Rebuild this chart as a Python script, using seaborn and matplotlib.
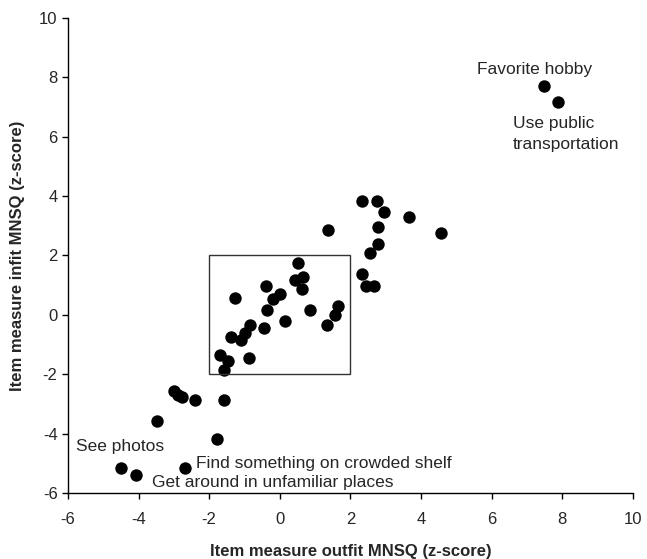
import seaborn as sns
import matplotlib.pyplot as plt
import matplotlib.patches as patches
import pandas as pd

sns.set_style('white')
plt.rcParams['font.family'] = ['Liberation Sans', 'DejaVu Sans']
plt.rcParams['axes.unicode_minus'] = False

# outfit (x) and infit (y) z-scores
outfit = [0.52, 0.42, 0.66, 0.64, -0.38, -0.2, 0.0, -1.27, -0.36, 0.85,
          0.14, -0.45, -0.85, -0.99, -1.09, -1.37, -0.87, -1.70, -1.46, -1.59,
          1.65, 1.56, 1.34, 1.36,
          2.34, 2.76, 2.96, 3.66, 4.58, 2.77, 2.77, 2.57, 2.34, 2.45, 2.67,
          -2.99, -2.88, -2.76, -2.39, -1.58, -3.49, -1.78, -4.50, -4.08, -2.67,
          7.49, 7.88]
infit = [1.76, 1.18, 1.29, 0.87, 0.98, 0.55, 0.7, 0.56, 0.17, 0.17,
         -0.22, -0.45, -0.34, -0.62, -0.84, -0.75, -1.44, -1.35, -1.54, -1.85,
         0.30, 0.0, -0.34, 2.86,
         3.85, 3.85, 3.46, 3.28, 2.77, 2.97, 2.38, 2.08, 1.38, 0.98, 0.98,
         -2.55, -2.69, -2.78, -2.86, -2.86, -3.56, -4.18, -5.17, -5.39, -5.16,
         7.69, 7.18]

labels = ['Favorite hobby', 'Use public\ntransportation', 'See photos',
          'Find something on crowded shelf', 'Get around in unfamiliar places']
label_x = [5.58, 6.6, -5.78, -2.38, -3.63]
label_y = [8.25, 6.68, -4.44, -5.02, -5.63]

df = pd.DataFrame({'outfit': outfit, 'infit': infit})

fig = plt.figure(figsize=(6.47, 5.59), dpi=100)
ax = fig.add_axes([0.105, 0.118, 0.873, 0.85])
sns.scatterplot(data=df, x='outfit', y='infit', color='black', s=80,
                edgecolor='black', linewidth=0, ax=ax)

ax.add_patch(patches.Rectangle((-2, -2), 4, 4, fill=False, edgecolor='#333333', lw=1))

for t, lx, ly in zip(labels, label_x, label_y):
    ax.text(lx, ly, t, fontsize=12.5, ha='left', linespacing=1.5,
            va='top' if '\n' in t else 'center')

ax.set_xlim(-6, 10)
ax.set_ylim(-6, 10)
ax.set_xticks(range(-6, 11, 2))
ax.set_yticks(range(-6, 11, 2))
ax.tick_params(axis='both', direction='out', length=4, width=1, labelsize=12,
               left=True, bottom=True, color='black')
ax.tick_params(axis='x', pad=10)
sns.despine(ax=ax)
for s in ['left', 'bottom']:
    ax.spines[s].set_color('black')
    ax.spines[s].set_linewidth(1)
ax.set_xlabel('Item measure outfit MNSQ (z-score)', fontsize=12, fontweight='bold', labelpad=12)
ax.set_ylabel('Item measure infit MNSQ (z-score)', fontsize=12, fontweight='bold', labelpad=10)

fig.savefig('out.png', dpi=100)
